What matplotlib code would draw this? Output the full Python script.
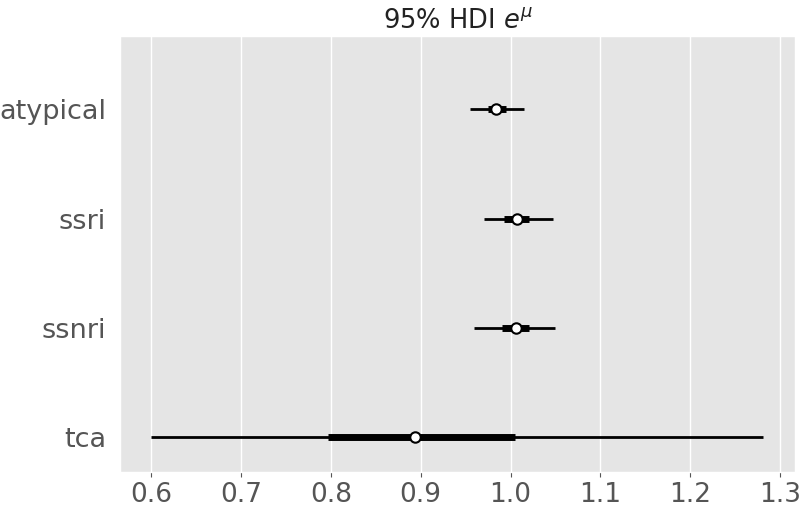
import matplotlib
matplotlib.use("Agg")
import matplotlib.pyplot as plt

plt.style.use("ggplot")

# group labels, top to bottom
groups = ["atypical", "ssri", "ssnri", "tca"]
# median of e^mu
medians = [0.984, 1.007, 1.006, 0.894]
# 95% HDI (thin line)
hdi_low = [0.955, 0.970, 0.959, 0.600]
hdi_high = [1.0145, 1.047, 1.049, 1.281]
# interquartile range (thick line)
iqr_low = [0.975, 0.993, 0.991, 0.797]
iqr_high = [0.9955, 1.020, 1.021, 1.005]

fig, ax = plt.subplots(figsize=(8, 5.09), dpi=100)

n = len(groups)
ypos = [n - 1 - i for i in range(n)]

ax.hlines(ypos, hdi_low, hdi_high, color="black", linewidth=2.0, zorder=3)
ax.hlines(ypos, iqr_low, iqr_high, color="black", linewidth=5, zorder=4)
ax.plot(medians, ypos, "o", markerfacecolor="white", markeredgecolor="black",
        markeredgewidth=1.5, markersize=7.5, linestyle="none", zorder=5)

ax.set_yticks(ypos)
ax.set_yticklabels(groups)
ax.set_xticks([0.6, 0.7, 0.8, 0.9, 1.0, 1.1, 1.2, 1.3])
ax.set_xlim(0.5655, 1.3167)
ax.set_ylim(-0.32, n - 1 + 0.67)

ax.grid(False)
ax.xaxis.grid(True, color="white", linewidth=1.0)
ax.tick_params(axis="y", length=0, labelsize=19.5, pad=10)
ax.tick_params(axis="x", labelsize=19)
ax.set_title(r"95% HDI $e^{\mu}$", fontsize=18.5, color="#222222")

fig.subplots_adjust(left=0.15, right=0.994, top=0.929, bottom=0.073)
fig.savefig("out.png", dpi=100)
